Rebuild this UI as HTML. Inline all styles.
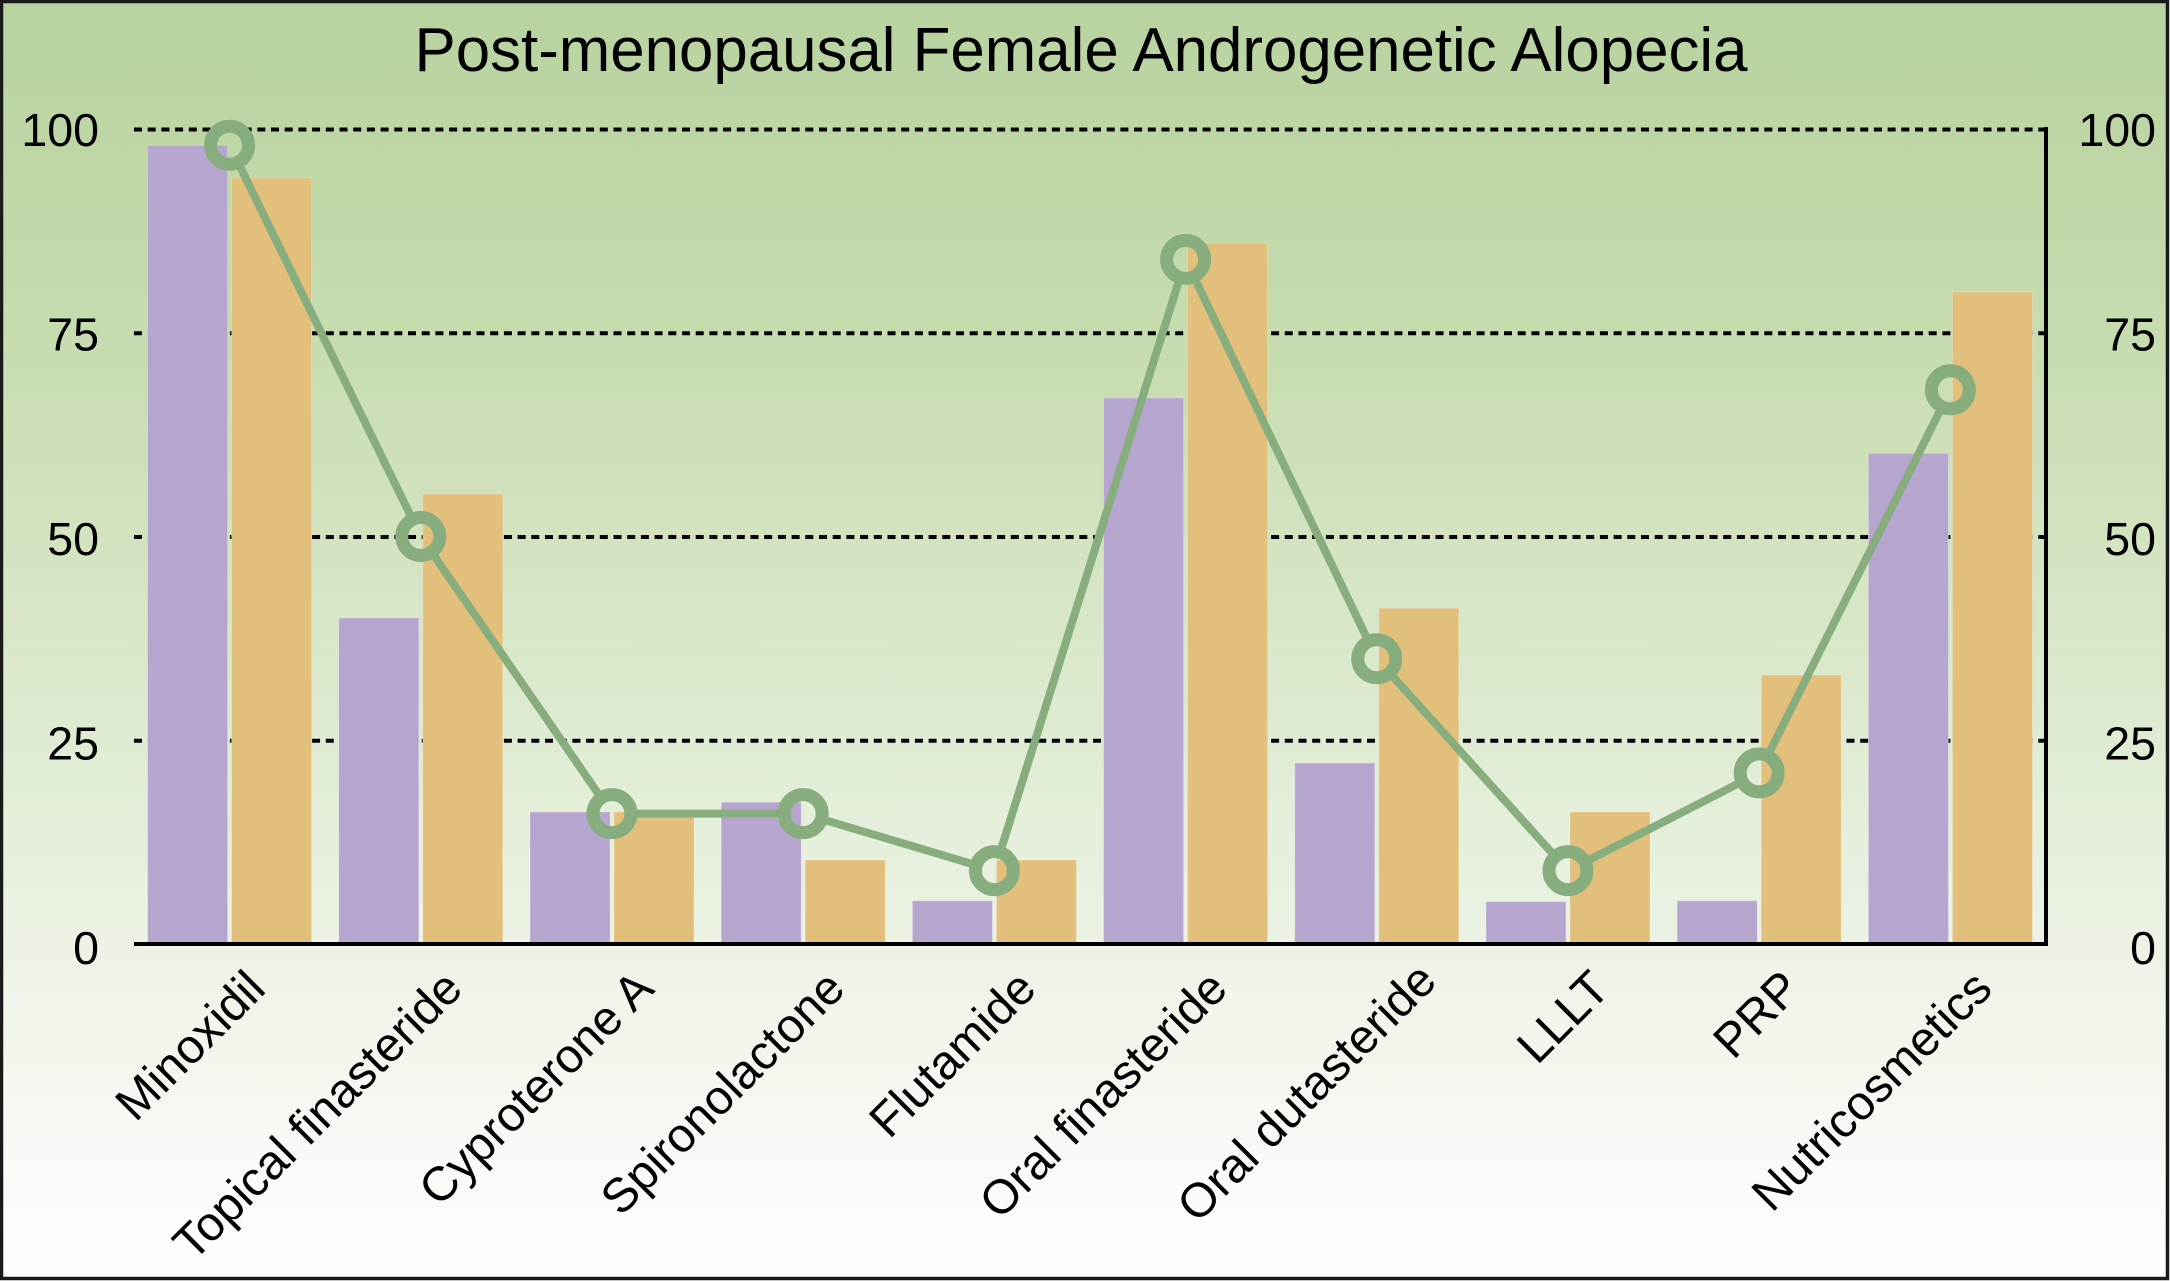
<!DOCTYPE html>
<html lang="en">
<head>
<meta charset="utf-8">
<title>Post-menopausal Female Androgenetic Alopecia</title>
<style>
html,body{margin:0;padding:0;background:#fff;}
body{width:2170px;height:1281px;overflow:hidden;}
svg{display:block;}
text{font-family:"Liberation Sans",Arial,sans-serif;fill:#000;}
</style>
</head>
<body>
<svg id="chart" xmlns="http://www.w3.org/2000/svg" width="2170" height="1281" viewBox="0 0 2170 1281">
  <defs>
    <linearGradient id="bgGrad" x1="0" y1="0" x2="0" y2="1">
      <stop offset="0" stop-color="#b8d2a0"/>
      <stop offset="0.25" stop-color="#c6dbae"/>
      <stop offset="0.5" stop-color="#d9e7c9"/>
      <stop offset="0.7" stop-color="#e9f1e1"/>
      <stop offset="0.85" stop-color="#f4f8f0"/>
      <stop offset="1" stop-color="#ffffff"/>
    </linearGradient>
  </defs>
  <rect x="1.5" y="1.5" width="2166" height="1277" fill="url(#bgGrad)" stroke="#1a1a1a" stroke-width="3.5"/>
  <text x="1081" y="71" font-size="61.8" text-anchor="middle">Post-menopausal Female Androgenetic Alopecia</text>
  <g id="grid"></g>
  <g id="bars"></g>
  <g id="axes"></g>
  <g id="ticks"></g>
  <g id="cats"></g>
  <g id="line"></g>
</svg>
<script>
const categories = ["Minoxidil","Topical finasteride","Cyproterone A","Spironolactone","Flutamide","Oral finasteride","Oral dutasteride","LLLT","PRP","Nutricosmetics"];
const purpleValues = [98,40,16.2,17.4,5.3,67,22.2,5.2,5.3,60.2];
const orangeValues = [94,55.2,16.2,10.3,10.3,86,41.2,16.2,33,80];
const lineValues = [98,50,16,16,9,84,35,9,21,68];
const yTicks = [0,25,50,75,100];

const NS = "http://www.w3.org/2000/svg";
const plotL = 134, plotR = 2046, plotT = 129, plotB = 944;
const step = (plotR - plotL) / categories.length;
function yScale(v){ return plotB - (plotB - plotT) * v / 100; }
function xCenter(i){ return plotL + step * (i + 0.5); }
function make(tag, parent, attrs){
  const el = document.createElementNS(NS, tag);
  for (const k in attrs) el.setAttribute(k, attrs[k]);
  document.getElementById(parent).appendChild(el);
  return el;
}

yTicks.forEach(function(v){
  if (v === 0) return;
  const g = make("line", "grid", {x1: plotL, x2: plotR - 2, y1: yScale(v) + 0.5, y2: yScale(v) + 0.5, stroke: "#000", "stroke-width": 4, "stroke-dasharray": "8 5.7"});
  
  
});

const barW = 80;
categories.forEach(function(c, i){
  const cx = xCenter(i);
  const a = make("rect", "bars", {x: cx - 82, y: yScale(purpleValues[i]), width: barW, height: plotB - yScale(purpleValues[i]), fill: "#b5a5cf", stroke: "#f3f3ee", "stroke-opacity": 0.3, "stroke-width": 1});
  
  
  const b = make("rect", "bars", {x: cx + 2, y: yScale(orangeValues[i]), width: barW, height: plotB - yScale(orangeValues[i]), fill: "#e3bf7c", stroke: "#f3f3ee", "stroke-opacity": 0.3, "stroke-width": 1});
  
  
});

const xAxis = make("line", "axes", {x1: plotL, x2: plotR + 2, y1: plotB, y2: plotB, stroke: "#000", "stroke-width": 4});


const rAxis = make("line", "axes", {x1: plotR, x2: plotR, y1: plotT - 2, y2: plotB + 2, stroke: "#000", "stroke-width": 4});



yTicks.forEach(function(v){
  const by = yScale(v) + 20 - v * 0.03;
  const l = make("text", "ticks", {x: 99, y: by, "font-size": 46.5, "text-anchor": "end"});
  l.textContent = v;
  
  
  const r = make("text", "ticks", {x: 2156, y: by, "font-size": 46.5, "text-anchor": "end"});
  r.textContent = v;
  
  
});

categories.forEach(function(c, i){
  let ax = xCenter(i) + 44, ay = 991;
  if (c === "Oral dutasteride") { ax += 18; ay -= 8; }
  if (c === "Minoxidil") { ax -= 6; }
  const t = make("text", "cats", {x: ax, y: ay, "font-size": 48, "text-anchor": "end", transform: "rotate(-45 " + ax + " " + ay + ")"});
  t.textContent = c;
  
  
});

const ringR = 19;
lineValues.forEach(function(v, i){
  if (i === 0) return;
  const x1 = xCenter(i - 1), y1 = yScale(lineValues[i - 1]), x2 = xCenter(i), y2 = yScale(v);
  const d = Math.hypot(x2 - x1, y2 - y1), ux = (x2 - x1) / d, uy = (y2 - y1) / d;
  const s = make("line", "line", {x1: x1 + ux * ringR, y1: y1 + uy * ringR, x2: x2 - ux * ringR, y2: y2 - uy * ringR, stroke: "#87ad7e", "stroke-width": 8});
  
  
});
lineValues.forEach(function(v, i){
  const p = make("circle", "line", {cx: xCenter(i), cy: yScale(v), r: ringR, fill: "none", stroke: "#87ad7e", "stroke-width": 13});
  
  
});
</script>
</body>
</html>
